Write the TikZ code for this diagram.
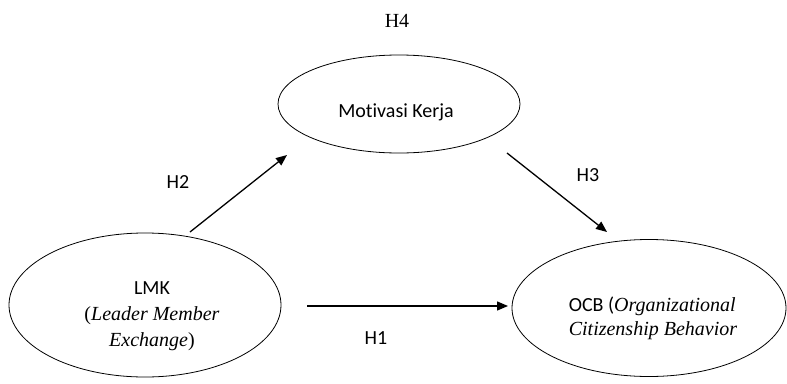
\documentclass[tikz,border=0pt]{standalone}
\usepackage{fontspec}
\setmainfont{Liberation Serif}
\newfontfamily\calfont[Ligatures=NoCommon]{Carlito}
\usetikzlibrary{arrows.meta,shapes.geometric}
\begin{document}
\begin{tikzpicture}[x=1pt,y=-1pt,
  ell/.style={draw, ellipse, line width=0.8pt, inner sep=0pt},
  conn/.style={line width=1.3pt, -{Triangle[length=11pt,width=9pt]}},
  sanslbl/.style={font=\calfont\fontsize{20}{24}\selectfont, inner sep=0pt},
  seriflbl/.style={font=\fontsize{20}{24}\selectfont, inner sep=0pt}]
\useasboundingbox (0,0) rectangle (787,383);
% ellipses
\node[ell, minimum width=242pt, minimum height=98pt] (mk) at (399,104) {};
\node[ell, minimum width=272pt, minimum height=144pt] (lmk) at (145,305) {};
\node[ell, minimum width=274pt, minimum height=137pt] (ocb) at (649,308) {};
% texts
\node[seriflbl, align=center, font=\fontsize{20}{26}\selectfont] (lmktext) at (152,316)
  {{\calfont LMK}\\(\textit{Leader Member}\\\textit{Exchange})};
\node[seriflbl, align=left, font=\fontsize{20}{24}\selectfont] (ocbtext) at (653,318)
  {{\calfont OCB (}\textit{Organizational}\\\textit{Citizenship Behavior}};
\node[sanslbl] (mktext) at (396,112) {Motivasi Kerja};
\node[seriflbl] (h4) at (397,21) {H4};
\node[sanslbl] (h2) at (178,182) {H2};
\node[sanslbl] (h3) at (588,175) {H3};
\node[sanslbl] (h1) at (376,338) {H1};
% arrow end points
\coordinate (h2s) at (190,232);
\coordinate (h2e) at (287,155);
\coordinate (h3s) at (507,153);
\coordinate (h3e) at (607,232);
\coordinate (h1s) at (307,306);
\coordinate (h1e) at (508,306);
\draw[conn] (h2s) -- (h2e);
\draw[conn] (h3s) -- (h3e);
\draw[conn] (h1s) -- (h1e);
\end{tikzpicture}
\end{document}
